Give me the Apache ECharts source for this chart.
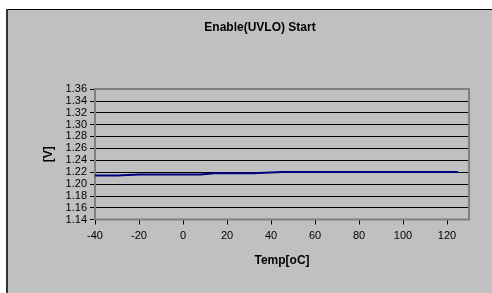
<!DOCTYPE html>
<html><head><meta charset="utf-8">
<script src="https://cdn.jsdelivr.net/npm/echarts@6/dist/echarts.min.js"></script>
<style>html,body{margin:0;padding:0;background:#fff;}#c{width:492px;height:293px;}</style>
</head><body><div id="c"></div>
<script>
const title = 'Enable(UVLO) Start';
const xName = 'Temp[oC]';
const yName = '[V]';
const temps = [-40, -30, -20, 8, 14, 32, 45, 125];
const volts = [1.214, 1.214, 1.216, 1.216, 1.218, 1.218, 1.22, 1.22];
const xMin = -40, xMax = 130, xStep = 20;
const yMin = 1.14, yMax = 1.36, yStep = 0.02;

const chart = echarts.init(document.getElementById('c'), null, {renderer: 'canvas'});
const font = 'Liberation Sans, Arial, sans-serif';
chart.setOption({
  animation: false,
  backgroundColor: '#ffffff',
  graphic: [
    {type: 'rect', z: -10, shape: {x: 7, y: 9, width: 495, height: 295}, style: {fill: '#c0c0c0', stroke: null}},
    {type: 'line', z: 10, shape: {x1: 7, y1: 9.5, x2: 492, y2: 9.5}, style: {stroke: '#000', lineWidth: 1}},
    {type: 'line', z: 10, shape: {x1: 7, y1: 9, x2: 7, y2: 293}, style: {stroke: '#333', lineWidth: 2}},
    {type: 'rect', z: 1, shape: {x: 95, y: 89, width: 374, height: 130.5}, style: {fill: null, stroke: '#808080', lineWidth: 2}}
  ],
  title: {
    text: title, left: 255, top: 17, textAlign: 'center',
    textStyle: {fontFamily: font, fontSize: 12, fontWeight: 'bold', color: '#000'}
  },
  grid: {left: 95, top: 89, width: 374, height: 130.5, containLabel: false, show: false},
  xAxis: {
    type: 'value', min: xMin, max: xMax, interval: xStep,
    name: xName, nameLocation: 'middle', nameGap: 35,
    nameTextStyle: {fontFamily: font, fontSize: 12, fontWeight: 'bold', color: '#000'},
    axisLine: {show: true, onZero: false, lineStyle: {color: '#000', width: 1}},
    axisTick: {show: true, length: 5, lineStyle: {color: '#000'}},
    axisLabel: {fontFamily: font, fontSize: 11, color: '#000', margin: 11, showMaxLabel: false,
      formatter: v => (v > 120 ? '' : String(v))},
    splitLine: {show: false}
  },
  yAxis: {
    type: 'value', min: yMin, max: yMax, interval: yStep,
    name: yName, nameLocation: 'middle', nameGap: 38, nameRotate: 90,
    nameTextStyle: {fontFamily: font, fontSize: 12, fontWeight: 'bold', color: '#000'},
    axisLine: {show: true, onZero: false, lineStyle: {color: '#000', width: 1}},
    axisTick: {show: true, length: 5, lineStyle: {color: '#000'}},
    axisLabel: {fontFamily: font, fontSize: 11, color: '#000', margin: 8,
      formatter: v => v.toFixed(2)},
    splitLine: {show: true, lineStyle: {color: '#000', width: 1}}
  },
  series: [{
    type: 'line', data: temps.map((t, i) => [t, volts[i]]),
    showSymbol: false, symbol: 'none',
    lineStyle: {color: '#000080', width: 2}, z: 5
  }]
});
</script></body></html>
